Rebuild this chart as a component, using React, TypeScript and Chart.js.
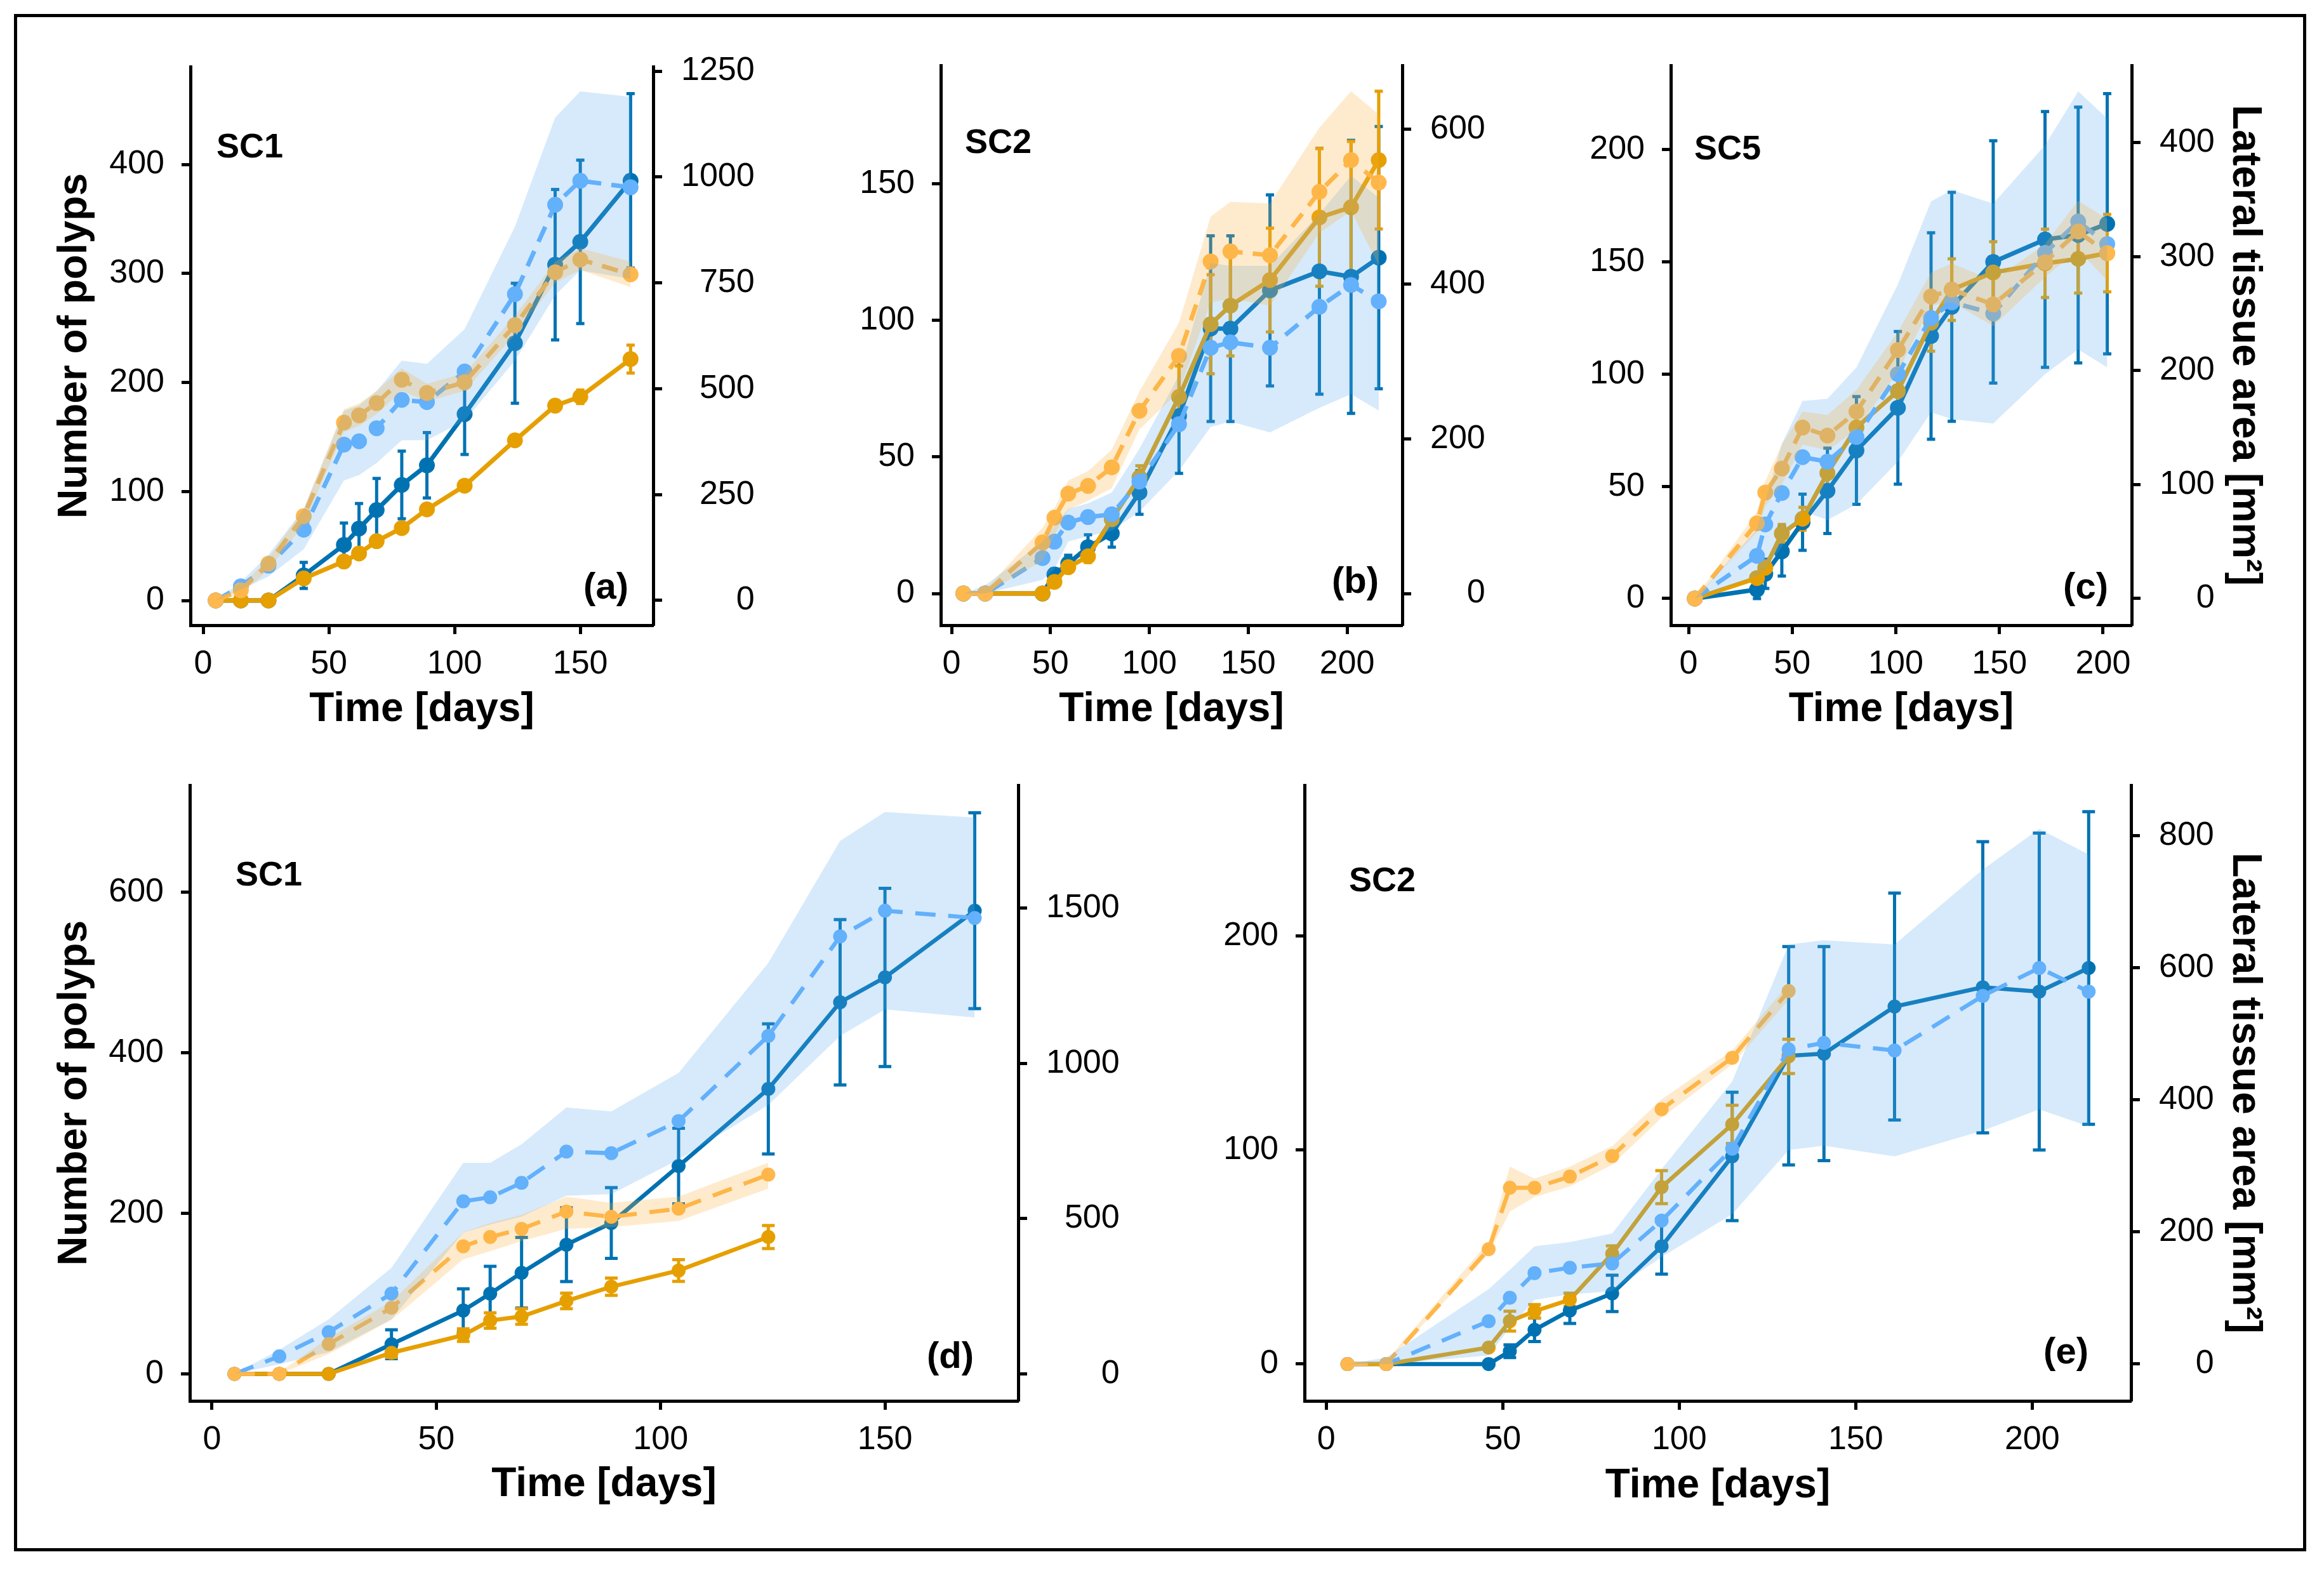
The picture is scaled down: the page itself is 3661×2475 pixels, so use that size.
import React, { useEffect, useRef } from "react";
import { Chart, registerables } from "chart.js";

Chart.register(...registerables);

const FONT = "'Liberation Sans', Arial, Helvetica, sans-serif";
const DARK_BLUE = "#0072B2";
const LIGHT_BLUE = "#66B2FF";
const ORANGE = "#E69F00";
const LIGHT_ORANGE = "#FFB84D";
const BLUE_BAND = "rgba(92,172,239,0.25)";
const ORANGE_BAND = "rgba(250,175,60,0.25)";

// ---------------- DATA ----------------
const DAYS_SC1 = [5, 15, 26, 40, 56, 62, 69, 79, 89, 104, 124, 140, 150, 170];
const DAYS_SC2 = [6, 17, 46, 52, 59, 69, 81, 95, 115, 131, 141, 161, 186, 202, 216];
const DAYS_SC5 = [3, 33, 37, 45, 55, 67, 81, 101, 117, 127, 147, 172, 188, 202];

// (a) SC1
const A_POLYPS_EXP = [0, 0, 0, 23, 51, 66, 83, 106, 124, 171, 236, 308, 329, 385];
const A_POLYPS_ERR = [0, 0, 0, 12, 20, 23, 29, 31, 30, 37, 55, 69, 75, 80];
const A_POLYPS_MODEL = [0, 13, 32, 65, 143, 146, 158, 184, 182, 210, 281, 363, 385, 379];
const A_POLYPS_HI = [0, 17, 42, 84, 174, 179, 192, 220, 217, 249, 343, 443, 467, 462];
const A_POLYPS_LO = [0, 10, 22, 47, 110, 115, 126, 147, 147, 165, 220, 280, 303, 295];
const A_AREA_EXP = [0, 0, 0, 52, 92, 111, 140, 171, 215, 271, 378, 460, 481, 570];
const A_AREA_ERR = [0, 0, 0, 5, 6, 6, 6, 7, 7, 8, 9, 10, 16, 33];
const A_AREA_MODEL = [0, 24, 87, 199, 420, 437, 466, 521, 490, 515, 650, 775, 805, 770];
const A_AREA_HI = [0, 32, 100, 216, 452, 465, 495, 548, 512, 537, 672, 800, 832, 800];
const A_AREA_LO = [0, 15, 72, 180, 398, 412, 440, 495, 470, 495, 628, 750, 780, 740];

// (b) SC2
const B_POLYPS_EXP = [0, 0, 0, 7, 11, 17, 22, 37, 65, 97, 97, 111, 118, 116, 123];
const B_POLYPS_ERR = [0, 0, 0, 2, 3, 4.5, 5, 8, 21, 34, 34, 35, 45, 50, 48];
const B_POLYPS_MODEL = [0, 0, 13, 19, 26, 28, 29, 41, 62, 90, 92, 90, 105, 113, 107];
const B_POLYPS_HI = [0, 3, 19, 25, 31, 33, 37, 53, 80, 121, 120, 120, 139, 153, 145];
const B_POLYPS_LO = [0, 0, 5, 9, 19, 21, 23, 30, 45, 61, 63, 59, 68, 73, 67];
const B_AREA_EXP = [0, 0, 0, 15, 34, 48, 96, 150, 254, 348, 372, 405, 486, 499, 560];
const B_AREA_ERR = [0, 0, 0, 3, 5, 8, 10, 15, 40, 64, 65, 67, 89, 85, 89];
const B_AREA_MODEL = [0, 0, 66, 98, 129, 139, 163, 236, 307, 429, 442, 437, 519, 560, 531];
const B_AREA_HI = [0, 5, 85, 110, 146, 158, 186, 261, 350, 487, 506, 504, 602, 649, 619];
const B_AREA_LO = [0, 0, 42, 75, 108, 120, 136, 212, 261, 376, 381, 372, 466, 494, 424];

// (c) SC5
const C_POLYPS_EXP = [0, 4, 11, 21, 34, 48, 66, 85, 117, 130, 150, 160, 162, 167];
const C_POLYPS_ERR = [0, 4, 6.5, 11, 12.5, 19, 24, 34, 46, 51, 54, 57, 57, 58];
const C_POLYPS_MODEL = [0, 19, 33, 47, 63, 61, 72, 100, 125, 132, 127, 154, 168, 158];
const C_POLYPS_HI = [0, 31, 43, 69, 88, 89, 103, 140, 177, 182, 176, 202, 226, 214];
const C_POLYPS_LO = [0, 10, 13, 23, 39, 35, 42, 61, 83, 80, 78, 100, 111, 103];
const C_AREA_EXP = [0, 18, 27, 57, 70, 110, 150, 182, 242, 271, 286, 294, 298, 303];
const C_AREA_ERR = [0, 4, 6, 8, 10, 12, 15, 18, 25, 27, 27, 30, 30, 34];
const C_AREA_MODEL = [0, 66, 93, 114, 150, 143, 164, 218, 265, 271, 258, 295, 322, 303];
const C_AREA_HI = [0, 76, 103, 135, 164, 161, 183, 234, 286, 294, 279, 311, 349, 333];
const C_AREA_LO = [0, 58, 81, 100, 135, 130, 148, 199, 257, 260, 239, 282, 306, 279];

// (d) SC1
const D_POLYPS_EXP = [0, 0, 0, 37, 79, 100, 126, 161, 188, 259, 355, 463, 494, 577];
const D_POLYPS_ERR = [0, 0, 0, 18, 27, 34, 44, 46, 44, 47, 81, 103, 111, 122];
const D_POLYPS_MODEL = [0, 22, 52, 100, 215, 220, 238, 277, 275, 315, 421, 545, 577, 568];
const D_POLYPS_HI = [0, 30, 68, 132, 263, 263, 286, 332, 327, 375, 512, 664, 700, 693];
const D_POLYPS_LO = [0, 12, 27, 68, 176, 186, 196, 222, 224, 267, 335, 421, 454, 444];
const D_AREA_EXP = [0, 0, 0, 68, 125, 172, 185, 235, 281, 333, 441];
const D_AREA_ERR = [0, 0, 0, 15, 20, 25, 25, 25, 28, 35, 37];
const D_AREA_MODEL = [0, 0, 96, 213, 411, 441, 467, 523, 506, 532, 642];
const D_AREA_HI = [0, 5, 116, 233, 456, 486, 512, 571, 551, 571, 681];
const D_AREA_LO = [0, 0, 64, 174, 369, 395, 428, 467, 473, 493, 597];

// (e) SC2
const E_POLYPS_EXP = [0, 0, 0, 6, 16, 25, 33, 55, 97, 144, 145, 167, 176, 174, 185];
const E_POLYPS_ERR = [0, 0, 0, 3, 5.5, 6, 8.5, 13, 30, 51, 50, 53, 68, 74, 73];
const E_POLYPS_MODEL = [0, 0, 20, 31, 42.5, 45, 47, 67, 100.6, 147, 150, 146.5, 172, 185, 174];
const E_POLYPS_HI = [0, 3, 35, 44, 55, 57, 61, 91, 132, 196, 198, 196, 231, 250, 238];
const E_POLYPS_LO = [0, 0, 4, 17, 30, 32.5, 34, 50, 70, 100, 102, 97, 109, 119, 111];
const E_AREA_EXP = [0, 0, 25, 65, 80, 97.5, 167, 268, 363, 466];
const E_AREA_ERR = [0, 0, 0, 15, 10, 10, 12, 25, 29, 26];
const E_AREA_MODEL = [0, 0, 174, 267, 267, 284, 315, 386, 464, 565];
const E_AREA_HI = [0, 5, 185, 299, 281, 299, 330, 401, 475, 576];
const E_AREA_LO = [0, 0, 167, 231, 253, 269, 302, 373, 454, 552];

// tick labels
const X_TICKS_170 = [0, 50, 100, 150];
const X_TICKS_220 = [0, 50, 100, 150, 200];
const A_Y_TICKS = [0, 100, 200, 300, 400];
const A_Y1_TICKS = [0, 250, 500, 750, 1000, 1250];
const B_Y_TICKS = [0, 50, 100, 150];
const B_Y1_TICKS = [0, 200, 400, 600];
const C_Y_TICKS = [0, 50, 100, 150, 200];
const C_Y1_TICKS = [0, 100, 200, 300, 400];
const D_Y_TICKS = [0, 200, 400, 600];
const D_Y1_TICKS = [0, 500, 1000, 1500];
const E_Y_TICKS = [0, 100, 200];
const E_Y1_TICKS = [0, 200, 400, 600, 800];

const X_TITLE = "Time [days]";
const LEFT_TITLE = "Number of polyps";
const RIGHT_TITLE = "Lateral tissue area [mm²]";

type Panel = {
  box: { left: number; top: number; width: number; height: number };
  wLeft: number; wRight: number; hBottom: number; padTop: number;
  xMin: number; xMax: number; yMin: number; yMax: number; y1Min: number; y1Max: number;
  xTicks: number[]; yTicks: number[]; y1Ticks: number[];
  leftTitlePad: number | null; rightTitlePad: number | null; xTitlePad: number;
  days: number[];
  pExp: number[]; pErr: number[]; pModel: number[]; pHi: number[]; pLo: number[];
  aExp: number[]; aErr: number[]; aModel: number[]; aHi: number[]; aLo: number[];
  sc: string; letter: string; scDx: number; scDy: number; lDx: number; lDy: number;
  big: boolean;
};

const PANELS: Panel[] = [
  {
    box: { left: 30, top: 30, width: 1210, height: 1170 },
    wLeft: 270, wRight: 211, hBottom: 215, padTop: 75,
    xMin: -5.05, xMax: 179.0, yMin: -22.7, yMax: 489.7, y1Min: -58.5, y1Max: 1260.5,
    xTicks: X_TICKS_170, yTicks: A_Y_TICKS, y1Ticks: A_Y1_TICKS,
    leftTitlePad: 50, rightTitlePad: null, xTitlePad: 43,
    days: DAYS_SC1,
    pExp: A_POLYPS_EXP, pErr: A_POLYPS_ERR, pModel: A_POLYPS_MODEL, pHi: A_POLYPS_HI, pLo: A_POLYPS_LO,
    aExp: A_AREA_EXP, aErr: A_AREA_ERR, aModel: A_AREA_MODEL, aHi: A_AREA_HI, aLo: A_AREA_LO,
    sc: "SC1", letter: "(a)", scDx: 41, scDy: 128, lDx: -39, lDy: -58, big: false,
  },
  {
    box: { left: 1240, top: 30, width: 1200, height: 1170 },
    wLeft: 242, wRight: 231, hBottom: 215, padTop: 73,
    xMin: -5.46, xMax: 227.9, yMin: -11.6, yMax: 193.4, y1Min: -41.0, y1Max: 682.4,
    xTicks: X_TICKS_220, yTicks: B_Y_TICKS, y1Ticks: B_Y1_TICKS,
    leftTitlePad: null, rightTitlePad: null, xTitlePad: 43,
    days: DAYS_SC2,
    pExp: B_POLYPS_EXP, pErr: B_POLYPS_ERR, pModel: B_POLYPS_MODEL, pHi: B_POLYPS_HI, pLo: B_POLYPS_LO,
    aExp: B_AREA_EXP, aErr: B_AREA_ERR, aModel: B_AREA_MODEL, aHi: B_AREA_HI, aLo: B_AREA_LO,
    sc: "SC2", letter: "(b)", scDx: 38, scDy: 123, lDx: -37, lDy: -67, big: false,
  },
  {
    box: { left: 2440, top: 30, width: 1185, height: 1170 },
    wLeft: 192, wRight: 267, hBottom: 215, padTop: 73,
    xMin: -8.58, xMax: 213.8, yMin: -11.9, yMax: 237.6, y1Min: -23.4, y1Max: 467.7,
    xTicks: X_TICKS_220, yTicks: C_Y_TICKS, y1Ticks: C_Y1_TICKS,
    leftTitlePad: null, rightTitlePad: 51, xTitlePad: 43,
    days: DAYS_SC5,
    pExp: C_POLYPS_EXP, pErr: C_POLYPS_ERR, pModel: C_POLYPS_MODEL, pHi: C_POLYPS_HI, pLo: C_POLYPS_LO,
    aExp: C_AREA_EXP, aErr: C_AREA_ERR, aModel: C_AREA_MODEL, aHi: C_AREA_HI, aLo: C_AREA_LO,
    sc: "SC5", letter: "(c)", scDx: 37, scDy: 133, lDx: -37, lDy: -58, big: false,
  },
  {
    box: { left: 30, top: 1200, width: 1800, height: 1240 },
    wLeft: 269, wRight: 226, hBottom: 233, padTop: 37,
    xMin: -4.95, xMax: 179.7, yMin: -33.6, yMax: 733.4, y1Min: -86.9, y1Max: 1896.5,
    xTicks: X_TICKS_170, yTicks: D_Y_TICKS, y1Ticks: D_Y1_TICKS,
    leftTitlePad: 50, rightTitlePad: null, xTitlePad: 62,
    days: DAYS_SC1,
    pExp: D_POLYPS_EXP, pErr: D_POLYPS_ERR, pModel: D_POLYPS_MODEL, pHi: D_POLYPS_HI, pLo: D_POLYPS_LO,
    aExp: D_AREA_EXP, aErr: D_AREA_ERR, aModel: D_AREA_MODEL, aHi: D_AREA_HI, aLo: D_AREA_LO,
    sc: "SC1", letter: "(d)", scDx: 72, scDy: 143, lDx: -70, lDy: -68, big: true,
  },
  {
    box: { left: 1830, top: 1200, width: 1795, height: 1240 },
    wLeft: 225, wRight: 268, hBottom: 233, padTop: 37,
    xMin: -6.17, xMax: 228, yMin: -17.2, yMax: 270.4, y1Min: -55.8, y1Max: 876.9,
    xTicks: X_TICKS_220, yTicks: E_Y_TICKS, y1Ticks: E_Y1_TICKS,
    leftTitlePad: null, rightTitlePad: 51, xTitlePad: 60,
    days: DAYS_SC2,
    pExp: E_POLYPS_EXP, pErr: E_POLYPS_ERR, pModel: E_POLYPS_MODEL, pHi: E_POLYPS_HI, pLo: E_POLYPS_LO,
    aExp: E_AREA_EXP, aErr: E_AREA_ERR, aModel: E_AREA_MODEL, aHi: E_AREA_HI, aLo: E_AREA_LO,
    sc: "SC2", letter: "(e)", scDx: 70, scDy: 152, lDx: -67, lDy: -75, big: true,
  },
];

const TICK_FONT = { family: FONT, size: 52 };
const TITLE_FONT = { family: FONT, size: 64, weight: "bold" as const };
const TICK_LEN = 14;
const RIGHT_PAD = 30;

function PanelChart({ p }: { p: Panel }) {
  const ref = useRef<HTMLCanvasElement | null>(null);

  useEffect(() => {
    const canvas = ref.current;
    if (!canvas) return;
    const pts = (xs: number[], ys: number[]) => ys.map((y, i) => ({ x: xs[i], y }));
    const lw = p.big ? 6.5 : 7;
    const r = p.big ? 11 : 12.5;
    const dash = p.big ? [32, 20] : [26, 16];
    const cap = p.big ? 10 : 6.5;
    const hidden = {
      borderColor: "rgba(0,0,0,0)",
      borderWidth: 0,
      pointRadius: 0,
      pointHoverRadius: 0,
    };
    const datasets: any[] = [
      { data: pts(p.days, p.pHi), yAxisID: "y", fill: "+1", backgroundColor: BLUE_BAND, order: -1, ...hidden },
      { data: pts(p.days, p.pLo), yAxisID: "y", fill: false, order: -1, ...hidden },
      { data: pts(p.days, p.aHi), yAxisID: "y1", fill: "+1", backgroundColor: ORANGE_BAND, order: -2, ...hidden },
      { data: pts(p.days, p.aLo), yAxisID: "y1", fill: false, order: -2, ...hidden },
      {
        data: pts(p.days, p.aModel), yAxisID: "y1", fill: false, order: 0,
        borderColor: LIGHT_ORANGE, backgroundColor: LIGHT_ORANGE, borderWidth: lw, borderDash: dash,
        pointRadius: r, pointBorderWidth: 0, pointBackgroundColor: LIGHT_ORANGE,
      },
      {
        data: pts(p.days, p.pModel), yAxisID: "y", fill: false, order: 1,
        borderColor: LIGHT_BLUE, backgroundColor: LIGHT_BLUE, borderWidth: lw, borderDash: dash,
        pointRadius: r, pointBorderWidth: 0, pointBackgroundColor: LIGHT_BLUE,
      },
      {
        data: pts(p.days, p.aExp), yAxisID: "y1", fill: false, order: 2,
        borderColor: ORANGE, backgroundColor: ORANGE, borderWidth: lw,
        pointRadius: r, pointBorderWidth: 0, pointBackgroundColor: ORANGE,
      },
      {
        data: pts(p.days, p.pExp), yAxisID: "y", fill: false, order: 3,
        borderColor: DARK_BLUE, backgroundColor: DARK_BLUE, borderWidth: lw,
        pointRadius: r, pointBorderWidth: 0, pointBackgroundColor: DARK_BLUE,
      },
    ];

    const errSpecs = [
      { index: 7, errs: p.pErr, color: DARK_BLUE },
      { index: 6, errs: p.aErr, color: ORANGE },
    ];

    const errorBars = {
      id: "errorBars",
      beforeDatasetsDraw(chart: any) {
        const ctx = chart.ctx;
        ctx.save();
        ctx.lineCap = "butt";
        for (const s of errSpecs) {
          const meta = chart.getDatasetMeta(s.index);
          const scale = chart.scales[meta.yAxisID];
          const data = chart.data.datasets[s.index].data;
          ctx.strokeStyle = s.color;
          ctx.lineWidth = 5;
          data.forEach((pt: any, i: number) => {
            const e = s.errs[i];
            if (!e) return;
            const el = meta.data[i];
            if (!el) return;
            const x = el.x;
            const yTop = scale.getPixelForValue(pt.y + e);
            const yBot = scale.getPixelForValue(pt.y - e);
            ctx.beginPath();
            ctx.moveTo(x, yTop);
            ctx.lineTo(x, yBot);
            ctx.moveTo(x - cap, yTop);
            ctx.lineTo(x + cap, yTop);
            ctx.moveTo(x - cap, yBot);
            ctx.lineTo(x + cap, yBot);
            ctx.stroke();
          });
        }
        ctx.restore();
      },
    };

    const annotations = {
      id: "panelText",
      afterDraw(chart: any) {
        const ctx = chart.ctx;
        const a = chart.chartArea;
        ctx.save();
        ctx.fillStyle = "#000";
        // right axis tick labels, right aligned
        const s1 = chart.scales.y1;
        ctx.font = `${TICK_FONT.size}px ${FONT}`;
        ctx.textBaseline = "middle";
        ctx.textAlign = "right";
        const widest = Math.max(...p.y1Ticks.map((v) => ctx.measureText(String(v)).width));
        const xr = a.right + TICK_LEN + RIGHT_PAD + widest;
        p.y1Ticks.forEach((v) => ctx.fillText(String(v), xr, s1.getPixelForValue(v)));
        // panel labels
        ctx.font = `bold 54px ${FONT}`;
        ctx.textAlign = "left";
        ctx.fillText(p.sc, a.left + p.scDx, a.top + p.scDy);
        ctx.font = `bold 58px ${FONT}`;
        ctx.textAlign = "right";
        ctx.fillText(p.letter, a.right + p.lDx, a.bottom + p.lDy);
        ctx.restore();
      },
    };

    const grid = {
      display: true,
      drawOnChartArea: false,
      drawTicks: true,
      tickLength: TICK_LEN,
      tickWidth: 5,
      tickColor: "#000",
    };
    const border = { display: true, width: 5, color: "#000" };
    const noPadV = (s: any) => { s.paddingTop = 0; s.paddingBottom = 0; };
    const noPadH = (s: any) => { s.paddingLeft = 0; s.paddingRight = 0; };

    const chart = new Chart(canvas, {
      type: "line",
      data: { datasets },
      plugins: [errorBars, annotations],
      options: {
        responsive: false,
        maintainAspectRatio: false,
        devicePixelRatio: 1,
        animation: false,
        events: [],
        layout: { padding: { top: p.padTop, left: 0, right: 0, bottom: 0 } },
        plugins: {
          legend: { display: false },
          tooltip: { enabled: false },
          filler: { propagate: false, drawTime: "beforeDatasetDraw" },
        },
        elements: { line: { tension: 0 } },
        scales: {
          x: {
            type: "linear",
            min: p.xMin,
            max: p.xMax,
            afterBuildTicks: (s: any) => { s.ticks = p.xTicks.map((v) => ({ value: v })); },
            afterFit: (s: any) => { s.height = p.hBottom; noPadH(s); },
            ticks: {
              font: TICK_FONT, color: "#000", padding: 16, maxRotation: 0, autoSkip: false,
              callback: (v: any) => String(v),
            },
            grid, border,
            title: {
              display: true, text: X_TITLE, font: TITLE_FONT, color: "#000",
              padding: { top: 0, bottom: p.xTitlePad },
            },
          },
          y: {
            type: "linear",
            position: "left",
            min: p.yMin,
            max: p.yMax,
            afterBuildTicks: (s: any) => { s.ticks = p.yTicks.map((v) => ({ value: v })); },
            afterFit: (s: any) => { s.width = p.wLeft; noPadV(s); },
            ticks: {
              font: TICK_FONT, color: "#000", padding: 27, autoSkip: false,
              callback: (v: any) => String(v),
            },
            grid, border,
            title: {
              display: p.leftTitlePad !== null, text: LEFT_TITLE, font: TITLE_FONT, color: "#000",
              padding: { top: p.leftTitlePad ?? 0, bottom: 0 },
            },
          },
          y1: {
            type: "linear",
            position: "right",
            min: p.y1Min,
            max: p.y1Max,
            afterBuildTicks: (s: any) => { s.ticks = p.y1Ticks.map((v) => ({ value: v })); },
            afterFit: (s: any) => { s.width = p.wRight; noPadV(s); },
            ticks: { display: false, autoSkip: false },
            grid, border,
            title: {
              display: p.rightTitlePad !== null, text: RIGHT_TITLE, font: TITLE_FONT, color: "#000",
              padding: { top: p.rightTitlePad ?? 0, bottom: 0 },
            },
          },
        },
      } as any,
    });
    return () => chart.destroy();
  }, [p]);

  return (
    <canvas
      ref={ref}
      width={p.box.width}
      height={p.box.height}
      style={{
        position: "absolute",
        left: p.box.left,
        top: p.box.top,
        width: p.box.width,
        height: p.box.height,
      }}
    />
  );
}

export default function App() {
  return (
    <div
      style={{
        position: "absolute",
        left: 0,
        top: 0,
        width: 3661,
        height: 2475,
        background: "#fff",
        overflow: "hidden",
      }}
    >
      <div
        style={{
          position: "absolute",
          left: 22,
          top: 22,
          width: 3611,
          height: 2422,
          border: "5px solid #000",
          boxSizing: "border-box",
        }}
      />
      {PANELS.map((p, i) => (
        <PanelChart key={i} p={p} />
      ))}
    </div>
  );
}
